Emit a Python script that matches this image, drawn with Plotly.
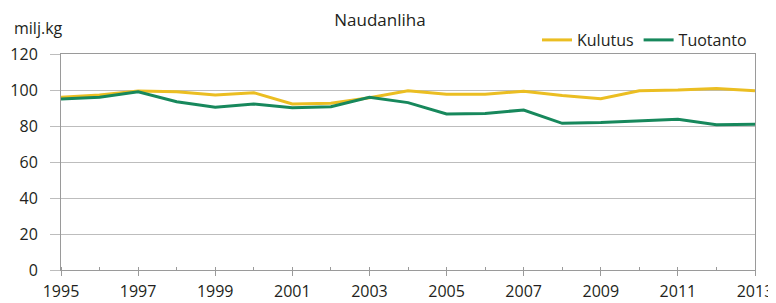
import plotly.graph_objects as go

years = list(range(1995, 2014))
kulutus = [96, 97.2, 99.5, 99, 97.2, 98.5, 92.2, 92.6, 95.7, 99.6, 97.6, 97.6, 99.3, 96.9, 95.2, 99.6, 100, 100.9, 99.6]
tuotanto = [95, 96, 99, 93.5, 90.4, 92.2, 90.2, 90.7, 96, 93, 86.7, 87, 88.9, 81.5, 81.9, 83, 83.7, 80.7, 81]
x_ticks = list(range(1995, 2014, 2))
y_ticks = [0, 20, 40, 60, 80, 100, 120]

YELLOW = "#EBBE22"
GREEN = "#17885C"
FONT = "Open Sans"
TXT = "#231F20"

# page body has an 8px default margin, so the figure is drawn 8px smaller
OFF = 8
W, H = 776 - OFF, 303 - OFF

fig = go.Figure()
fig.add_trace(go.Scatter(x=years, y=kulutus, name="Kulutus", mode="lines",
                         line=dict(color=YELLOW, width=3)))
fig.add_trace(go.Scatter(x=years, y=tuotanto, name="Tuotanto", mode="lines",
                         line=dict(color=GREEN, width=3)))

fig.update_layout(
    width=W, height=H,
    margin=dict(l=61 - OFF, r=21, t=54 - OFF, b=33, autoexpand=False),
    paper_bgcolor="white", plot_bgcolor="white",
    font=dict(family=FONT, size=16, color=TXT),
    title=dict(text="Naudanliha", xref="container", x=(380 - OFF) / W, xanchor="center",
               yref="container", y=1 - (20 - OFF) / H, yanchor="middle",
               font=dict(family=FONT, size=17, color=TXT)),
    showlegend=True,
    legend=dict(orientation="h", xref="container", x=(752 - OFF) / W, xanchor="right",
                yref="container", y=1 - (40 - OFF) / H, yanchor="middle",
                font=dict(family=FONT, size=16, color=TXT),
                itemwidth=30, bgcolor="rgba(0,0,0,0)"),
    xaxis=dict(range=[1995, 2013], tickvals=x_ticks, ticktext=[str(v) for v in x_ticks],
               automargin=False,
               showgrid=False, zeroline=False, showline=True, linecolor="#9A9A9A", linewidth=1,
               mirror=True, ticks="outside", ticklen=5, tickcolor="#9A9A9A",
               minor=dict(dtick=1, tick0=1995, ticks="inside", ticklen=3, tickcolor="#9A9A9A"),
               ticklabelstandoff=2,
               tickfont=dict(size=16)),
    yaxis=dict(range=[0, 120], tickvals=y_ticks, automargin=False,
               showgrid=True, gridcolor="#BDBDBD", gridwidth=1,
               zeroline=False, showline=True, linecolor="#9A9A9A", linewidth=1, mirror=True,
               ticks="outside", ticklen=10, tickcolor="#BDBDBD", ticklabelstandoff=9,
               tickfont=dict(size=16)),
    annotations=[dict(text="milj.kg", xref="paper", yref="paper", x=(12 - 61) / 694,
                      y=(270 - 28) / 216, xanchor="left", yanchor="middle", showarrow=False,
                      font=dict(family=FONT, size=16, color=TXT))],
)

fig.write_html("out.html")
